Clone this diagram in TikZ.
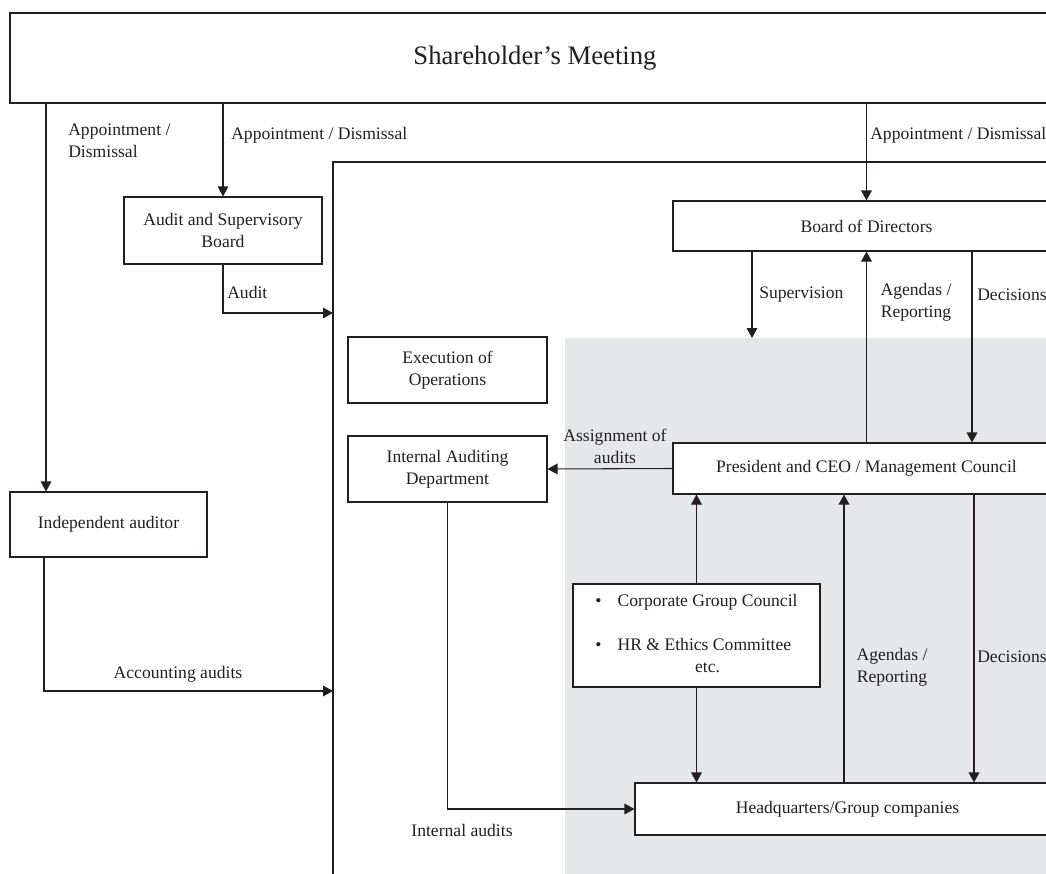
\documentclass[tikz,border=0pt]{standalone}
\usepackage{fontspec}
\setmainfont{Liberation Serif}
\usetikzlibrary{arrows.meta}

\definecolor{ink}{HTML}{231F20}
\definecolor{areagrey}{HTML}{E6E7E9}

\tikzset{
  box/.style={draw=ink, fill=white, line width=0.8pt, text=ink, align=center,
    inner sep=0pt, font=\fontsize{13.2}{16.5}\selectfont},
  ln/.style={draw=ink, line width=0.8pt},
  arr/.style={ln, -{Triangle[length=7.5pt,width=8pt]}},
  lbl/.style={text=ink, inner sep=0pt, font=\fontsize{13.2}{16.5}\selectfont},
}

\begin{document}
\begin{tikzpicture}[x=0.75pt,y=0.75pt,yscale=-1,xscale=1]
\useasboundingbox (0,0) rectangle (1046,874);
\clip (0,0) rectangle (1046,874);

% grey area and outer frame
\fill[areagrey] (565,338) rectangle (1070,890);
\draw[ln] (333,890) -- (333,162) -- (1070,162);

% boxes
\node[box, minimum width=787.5pt, minimum height=67.5pt, font=\fontsize{20}{24}\selectfont] (meeting) at (535,58) {Shareholder’s Meeting};
\node[box, minimum width=148.5pt, minimum height=50.25pt] (asb) at (223,230.5) {Audit and Supervisory\\Board};
\node[box, minimum width=147.75pt, minimum height=48.75pt] (indep) at (108.5,524.5) {Independent auditor};
\node[box, minimum width=290.25pt, minimum height=37.5pt] (board) at (866.5,226) {Board of Directors};
\node[box, minimum width=149.25pt, minimum height=49.5pt] (exec) at (447.5,370) {Execution of\\Operations};
\node[box, minimum width=149.25pt, minimum height=49.5pt] (iad) at (447.5,469) {Internal Auditing\\Department};
\node[box, minimum width=290.25pt, minimum height=38.25pt] (pres) at (866.5,468.5) {President and CEO / Management Council};
\node[box, minimum width=185.25pt, minimum height=77.25pt] (council) at (696.5,635.5) {%
  \begin{tabular}{@{}l@{\hspace{12pt}}l@{}}
  \textbullet & Corporate Group Council\\[16.5pt]
  \textbullet & HR \& Ethics Committee\\
   & \multicolumn{1}{c}{etc.}
  \end{tabular}};
\node[box, minimum width=318.75pt, minimum height=39pt] (hq) at (847.5,809) {Headquarters/Group companies};

% free ends on the frame
\coordinate (auditin) at (333,313);
\coordinate (accin) at (333,691);
\coordinate (supend) at (752,338);

% connectors
\draw[arr] (meeting.south -| 46,0) -- (indep.north -| 46,0);
\draw[arr] (meeting.south -| asb.north) -- (asb.north);
\draw[arr] (meeting.south -| board.north) -- (board.north);
\draw[arr] (asb.south) |- (auditin);
\draw[arr] (indep.south -| 44,0) |- (accin);
\draw[arr] (board.south -| supend) -- (supend);
\draw[arr] (pres.north) -- (board.south);
\draw[arr] (board.south -| 972,0) -- (pres.north -| 972,0);
\draw[arr] (pres.west) -- (iad.east);
\draw[arr] (council.north) -- (pres.south -| council.north);
\draw[arr] (council.south) -- (hq.north -| council.south);
\draw[arr] (hq.north -| 844,0) -- (pres.south -| 844,0);
\draw[arr] (pres.south -| 974,0) -- (hq.north -| 974,0);
\draw[arr] (iad.south) |- (hq.west);

% labels
\node[lbl, anchor=west, align=left] (l1) at (68,140.5) {Appointment /\\Dismissal};
\node[lbl, anchor=west] (l2) at (231,135) {Appointment / Dismissal};
\node[lbl, anchor=west] (l3) at (870,135) {Appointment / Dismissal};
\node[lbl, anchor=west] (l4) at (227,292) {Audit};
\node[lbl] (l5) at (178,674) {Accounting audits};
\node[lbl, anchor=west] (l6) at (759,295) {Supervision};
\node[lbl, align=center] (l7) at (916,302.5) {Agendas /\\Reporting};
\node[lbl, anchor=west] (l8) at (977,295) {Decisions};
\node[lbl, align=center] (l9) at (615,446) {Assignment of\\audits};
\node[lbl, align=center] (l10) at (892,667.5) {Agendas /\\Reporting};
\node[lbl, anchor=west] (l11) at (977,657) {Decisions};
\node[lbl] (l12) at (462,830) {Internal audits};

\end{tikzpicture}
\end{document}
